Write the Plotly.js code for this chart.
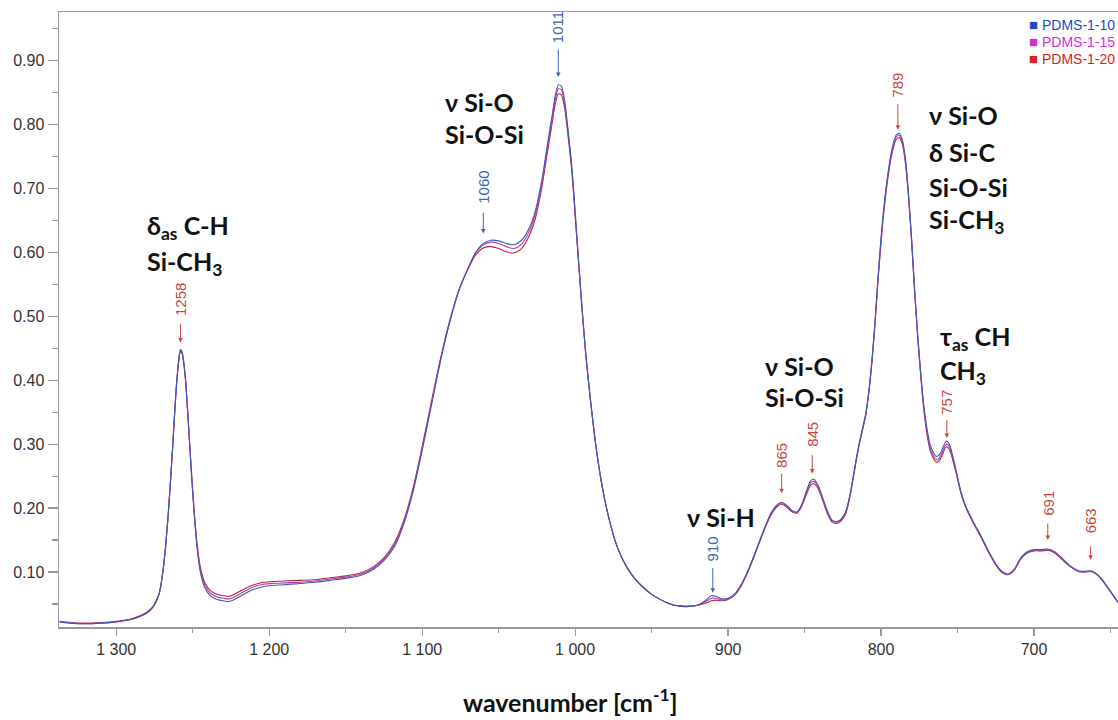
<!DOCTYPE html>
<html>
<head>
<meta charset="utf-8">
<script src="https://cdn.plot.ly/plotly-3.0.1.min.js"></script>
<style>html,body{margin:0;padding:0;background:#fff;}#chart{width:1118px;height:720px;}</style>
</head>
<body>
<div id="chart"></div>
<script>
// ---------------- DATA ----------------
const wavenumber = [1337,1330,1320,1310,1300,1290,1285,1280,1276,1272,1269,1266,1263,1261,1259,1258,1257,1255,1253,1251,1249,1247,1245,1242,1238,1234,1230,1226,1222,1216,1210,1204,1198,1190,1180,1170,1160,1150,1140,1132,1125,1118,1112,1106,1100,1094,1088,1082,1076,1070,1065,1060,1055,1050,1045,1040,1035,1030,1026,1022,1018,1015,1013,1011,1009,1007,1005,1002,999,996,993,990,986,982,978,974,970,965,960,955,950,945,940,935,930,925,920,915,911,908,904,900,896,892,888,884,880,876,872,868,865,862,858,855,852,849,846,844,841,838,835,832,829,826,823,820,818,816,814,812,810,808,806,804,802,799,796,793,790,788,786,784,782,780,778,776,774,772,770,768,766,764,762,760,758,757,755,753,751,748,745,740,735,730,725,721,717,713,709,705,700,695,691,686,681,676,671,667,663,660,656,652,648,645];

const pdms_1_10 = [0.022,0.020,0.019,0.020,0.022,0.026,0.030,0.036,0.045,0.065,0.110,0.190,0.300,0.380,0.435,0.448,0.445,0.410,0.340,0.260,0.190,0.135,0.100,0.075,0.062,0.057,0.055,0.054,0.058,0.066,0.073,0.077,0.079,0.080,0.082,0.084,0.087,0.090,0.095,0.104,0.118,0.140,0.175,0.225,0.290,0.360,0.430,0.490,0.540,0.575,0.600,0.614,0.619,0.618,0.614,0.612,0.619,0.638,0.665,0.710,0.770,0.815,0.845,0.862,0.860,0.840,0.800,0.730,0.630,0.530,0.440,0.370,0.290,0.230,0.185,0.150,0.125,0.103,0.087,0.075,0.065,0.058,0.052,0.048,0.046,0.046,0.048,0.055,0.063,0.062,0.058,0.059,0.065,0.078,0.097,0.120,0.145,0.170,0.192,0.205,0.209,0.205,0.196,0.194,0.205,0.225,0.243,0.245,0.235,0.215,0.195,0.181,0.179,0.183,0.195,0.225,0.252,0.280,0.305,0.326,0.348,0.383,0.430,0.490,0.560,0.650,0.715,0.760,0.784,0.786,0.775,0.745,0.690,0.620,0.540,0.470,0.410,0.360,0.325,0.300,0.288,0.281,0.283,0.292,0.303,0.305,0.298,0.280,0.260,0.228,0.205,0.180,0.158,0.134,0.113,0.101,0.097,0.104,0.121,0.131,0.135,0.135,0.136,0.131,0.120,0.109,0.102,0.101,0.102,0.099,0.090,0.077,0.063,0.053];

const pdms_1_15 = [0.022,0.020,0.019,0.020,0.022,0.026,0.030,0.036,0.045,0.065,0.110,0.190,0.300,0.380,0.434,0.447,0.444,0.410,0.340,0.262,0.192,0.138,0.104,0.079,0.066,0.061,0.059,0.058,0.062,0.070,0.077,0.081,0.082,0.083,0.084,0.086,0.089,0.092,0.097,0.106,0.120,0.143,0.178,0.228,0.293,0.363,0.432,0.492,0.541,0.575,0.599,0.612,0.616,0.614,0.609,0.606,0.613,0.633,0.660,0.705,0.765,0.809,0.839,0.856,0.854,0.835,0.796,0.727,0.628,0.529,0.440,0.370,0.290,0.230,0.185,0.150,0.125,0.103,0.087,0.075,0.065,0.058,0.052,0.048,0.046,0.046,0.048,0.053,0.059,0.059,0.056,0.058,0.064,0.077,0.096,0.119,0.144,0.169,0.191,0.204,0.208,0.204,0.195,0.193,0.204,0.223,0.240,0.242,0.233,0.213,0.193,0.180,0.178,0.182,0.194,0.224,0.251,0.279,0.304,0.325,0.347,0.382,0.429,0.488,0.558,0.647,0.712,0.757,0.781,0.783,0.772,0.742,0.688,0.618,0.538,0.468,0.407,0.356,0.320,0.295,0.283,0.276,0.278,0.287,0.298,0.300,0.294,0.277,0.258,0.226,0.204,0.179,0.157,0.133,0.112,0.100,0.096,0.103,0.120,0.130,0.134,0.134,0.135,0.130,0.119,0.108,0.101,0.100,0.101,0.098,0.089,0.076,0.062,0.052];

const pdms_1_20 = [0.023,0.021,0.020,0.021,0.023,0.027,0.031,0.037,0.046,0.066,0.110,0.190,0.298,0.378,0.432,0.445,0.442,0.408,0.340,0.264,0.195,0.141,0.108,0.083,0.070,0.065,0.063,0.062,0.066,0.074,0.080,0.084,0.085,0.086,0.087,0.088,0.091,0.094,0.099,0.108,0.122,0.146,0.181,0.231,0.296,0.366,0.434,0.493,0.541,0.574,0.596,0.607,0.609,0.606,0.601,0.599,0.606,0.626,0.653,0.698,0.758,0.802,0.832,0.848,0.846,0.828,0.790,0.722,0.625,0.527,0.439,0.369,0.290,0.230,0.185,0.150,0.125,0.103,0.087,0.075,0.065,0.058,0.052,0.048,0.047,0.047,0.048,0.051,0.055,0.056,0.055,0.057,0.063,0.076,0.095,0.118,0.143,0.168,0.189,0.202,0.206,0.202,0.194,0.192,0.202,0.220,0.236,0.238,0.230,0.211,0.191,0.178,0.176,0.180,0.192,0.222,0.249,0.277,0.302,0.323,0.345,0.380,0.427,0.486,0.555,0.643,0.708,0.753,0.777,0.779,0.768,0.738,0.685,0.616,0.536,0.466,0.405,0.353,0.316,0.291,0.279,0.272,0.274,0.283,0.294,0.296,0.290,0.274,0.256,0.225,0.203,0.178,0.156,0.132,0.111,0.099,0.096,0.103,0.119,0.129,0.133,0.133,0.134,0.129,0.118,0.108,0.101,0.100,0.101,0.098,0.089,0.076,0.062,0.052];

const seriesNames = ['PDMS-1-10', 'PDMS-1-15', 'PDMS-1-20'];

// peak labels
const peakWn     = [1258, 1060, 1011, 910, 865, 845, 789, 757, 691, 663];
const peakText   = ['1258', '1060', '1011', '910', '865', '845', '789', '757', '691', '663'];
const peakIsBlue = [false, true, true, true, false, false, false, false, false, false];

// band assignment texts
const bandLines = [
  'δ<sub>as</sub> C-H', 'Si-CH<sub>3</sub>',
  'ν Si-O', 'Si-O-Si',
  'ν Si-H',
  'ν Si-O', 'Si-O-Si',
  'ν Si-O', 'δ Si-C', 'Si-O-Si', 'Si-CH<sub>3</sub>',
  'τ<sub>as</sub> CH', 'CH<sub>3</sub>'
];

const xTickTitle = 'wavenumber [cm<sup>-1</sup>]';

// ---------------- STYLE / LAYOUT ----------------
const W = 1118, H = 720;
const M = {l: 59, r: 0, t: 12, b: 93};
const PW = W - M.l - M.r, PH = H - M.t - M.b;
const px2x = px => (px - M.l) / PW;
const py2y = py => (H - M.b - py) / PH;

const lineColors   = ['#3d5cae', '#b23ab2', '#b82444'];
const legendColors = ['#2a44cc', '#d82ad8', '#d82222'];
const labelRed = '#c9473f', labelBlue = '#3f63b3';

const allSeries = [pdms_1_10, pdms_1_15, pdms_1_20];
// draw red first, blue on top
const traces = [2, 1, 0].map(i => ({
  type: 'scatter', mode: 'lines', x: wavenumber, y: allSeries[i], name: seriesNames[i],
  line: {color: lineColors[i], width: 1.1, shape: 'spline', smoothing: 0.7},
  showlegend: false, hoverinfo: 'skip'
}));

const annotations = [];
const boldFont = {family: 'Lato, "Open Sans", sans-serif', size: 25, color: '#111', weight: 'bold'};

// band assignment labels: [left px, center py]
const bandPos = [
  [145, 227], [145, 263],
  [443, 102], [443, 134],
  [685, 517],
  [763, 366], [763, 397],
  [927, 115], [927, 152], [927, 187], [927, 221],
  [938, 338], [938, 372]
];
bandLines.forEach((t, i) => {
  annotations.push({
    xref: 'paper', yref: 'paper', x: px2x(bandPos[i][0]), y: py2y(bandPos[i][1]),
    xanchor: 'left', yanchor: 'middle', showarrow: false, text: '<b>' + t + '</b>',
    font: boldFont
  });
});

// peak arrows + rotated numbers
function valueAt(wn) {
  let best = 0;
  for (let i = 0; i < wavenumber.length; i++) {
    if (Math.abs(wavenumber[i] - wn) < Math.abs(wavenumber[best] - wn)) best = i;
  }
  return pdms_1_10[best];
}
// [gap above curve, arrow length, text center above curve] in px
const peakOffsets = [[7, 20, 50], [10, 22, 56], [8, 29, 58], [3, 26, 47], [9, 21, 47], [7, 20, 46], [5, 27, 50], [3, 19, 39], [9, 18, 46], [11, 15, 50]];
peakWn.forEach((wn, i) => {
  const col = peakIsBlue[i] ? labelBlue : labelRed;
  const [gap, len, tc] = peakOffsets[i];
  annotations.push({
    xref: 'x', yref: 'y', x: wn, y: valueAt(wn), text: '',
    showarrow: true, ax: 0, ay: -(gap + len), standoff: gap,
    arrowhead: 2, arrowsize: 0.9, arrowwidth: 1, arrowcolor: col
  });
  annotations.push({
    xref: 'x', yref: 'y', x: wn, y: valueAt(wn), text: peakText[i],
    showarrow: false, textangle: -90, yshift: tc, xanchor: 'center', yanchor: 'middle',
    font: {family: '"Liberation Sans", Arial, sans-serif', size: 15, color: col}
  });
});

// legend
seriesNames.forEach((n, i) => {
  annotations.push({
    xref: 'paper', yref: 'paper', x: px2x(1117), y: py2y(24 + i * 17.5),
    xanchor: 'right', yanchor: 'middle', showarrow: false,
    text: '<span style="font-size:15px">■</span> ' + n,
    font: {family: '"Liberation Sans", Arial, sans-serif', size: 14, color: legendColors[i]}
  });
});

// axis title
annotations.push({
  xref: 'paper', yref: 'paper', x: px2x(570), y: py2y(700),
  xanchor: 'center', yanchor: 'middle', showarrow: false, text: '<b>' + xTickTitle + '</b>',
  font: {family: 'Lato, "Open Sans", sans-serif', size: 25, color: '#111', weight: 'bold'}
});

const axisGray = '#9a9a9a';
const layout = {
  width: W, height: H, margin: M,
  paper_bgcolor: '#fff', plot_bgcolor: '#fff',
  separators: '. ',
  showlegend: false,
  font: {family: '"Liberation Sans", Arial, sans-serif', size: 16, color: '#333'},
  xaxis: {
    range: [1337.4, 645.1], autorange: false,
    tickmode: 'linear', tick0: 0, dtick: 100, separatethousands: true,
    ticks: 'outside', ticklen: 7, tickwidth: 1.2, tickcolor: axisGray,
    minor: {dtick: 50, ticklen: 4, tickwidth: 1.2, tickcolor: axisGray, ticks: 'outside'},
    showline: true, linecolor: axisGray, linewidth: 1.5, mirror: true,
    showgrid: false, zeroline: false,
    tickfont: {size: 16, color: '#333'}
  },
  yaxis: {
    range: [0.014, 0.976], autorange: false,
    tickmode: 'linear', tick0: 0, dtick: 0.1, tickformat: '.2f',
    ticks: 'outside', ticklen: 10, tickwidth: 1.2, tickcolor: axisGray,
    minor: {dtick: 0.05, ticklen: 6, tickwidth: 1.2, tickcolor: axisGray, ticks: 'outside'},
    showline: true, linecolor: axisGray, linewidth: 1.5,
    showgrid: false, zeroline: false,
    tickfont: {size: 16, color: '#333'}
  },
  annotations: annotations
};

Plotly.newPlot('chart', traces, layout, {staticPlot: true, displayModeBar: false});
</script>
</body>
</html>
